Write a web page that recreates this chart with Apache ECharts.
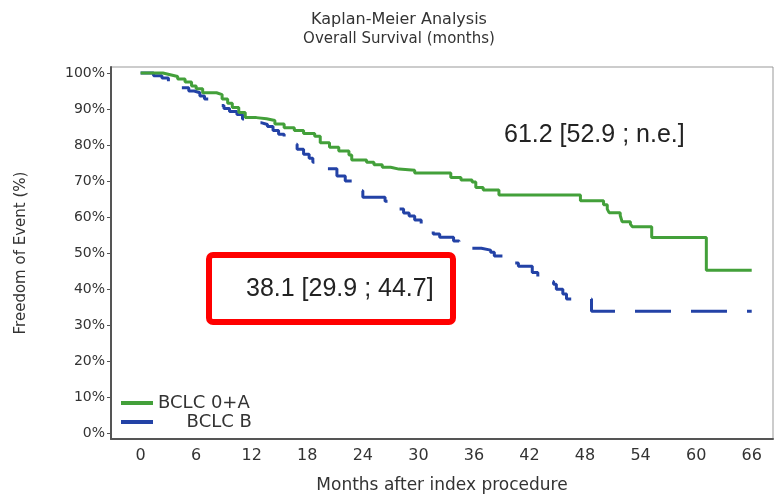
<!DOCTYPE html>
<html>
<head>
<meta charset="utf-8">
<script src="https://cdn.jsdelivr.net/npm/echarts@6/dist/echarts.min.js"></script>
<style>
  html, body { margin: 0; padding: 0; background: #fff; }
  #kmChart { width: 783px; height: 499px; }
</style>
</head>
<body>
<div id="kmChart"></div>
<script>
// tick labels
var xTicks = [0, 6, 12, 18, 24, 30, 36, 42, 48, 54, 60, 66];
var yTicks = [0, 10, 20, 30, 40, 50, 60, 70, 80, 90, 100];

// BCLC 0+A (months, % free of event after the step)
var greenMonths = [0, 2.4, 3.2, 4.0, 4.8, 5.5, 6.0, 6.7, 8.2, 8.8, 9.4, 9.9, 10.6, 11.3, 12.5, 13.6, 14.5, 15.5, 16.6, 17.6,
	18.8, 19.4, 20.4, 21.4, 22.5, 22.8, 24.4, 25.2, 26.1, 27.0, 27.9, 29.6, 33.5, 34.6, 35.8, 36.2, 37.0, 38.7,
	47.5, 50.0, 50.4, 50.6, 51.8, 52.0, 52.9, 53.1, 55.2, 61.1, 66.0];
var greenSurv = [100, 99.5, 99, 98.3, 97.5, 96.4, 95.6, 94.5, 94.0, 92.8, 91.6, 90.4, 89, 87.6, 87.3, 86.8, 85.8, 84.8, 84, 83.2,
	82.4, 80.6, 79.4, 78.3, 77.2, 75.8, 75.2, 74.5, 73.8, 73.3, 73.0, 72.2, 71, 70.3, 69.7, 68.2, 67.5, 66.1,
	64.5, 63.4, 62.2, 61.2, 60.4, 58.7, 58.0, 57.3, 54.3, 45.2, 45.2];

// BCLC B
var blueMonths = [0, 1.4, 2.3, 3.0, 3.6, 4.2, 5.2, 5.8, 6.4, 6.9, 7.6, 8.3, 9.0, 9.6, 10.4, 11.0, 11.5, 13.0, 13.7, 14.3,
	14.9, 15.5, 16.3, 16.9, 17.6, 18.2, 18.6, 19.3, 20.1, 21.2, 22.1, 23.0, 23.4, 24.0, 26.4, 27.1, 27.6, 28.4,
	29.0, 29.6, 30.3, 30.9, 31.6, 32.3, 33.8, 34.4, 35.0, 36.8, 37.8, 38.2, 39.3, 40.0, 40.8, 42.3, 42.9, 43.3,
	44.6, 44.9, 45.6, 46.0, 48.7, 66.0];
var blueSurv = [100, 99.2, 98.6, 97.5, 96.7, 95.9, 95.0, 94.5, 93.6, 92.8, 91.8, 91.0, 90.1, 89.3, 88.5, 87.2, 86.2, 85.7, 85.1, 84.0,
	83.0, 82.1, 80.2, 78.8, 77.4, 76.3, 75.2, 74.6, 73.4, 71.4, 70.0, 68.6, 67.3, 65.5, 64.4, 63.1, 62.2, 61.1,
	60.3, 59.2, 57.8, 56.5, 55.3, 54.4, 53.3, 52.0, 51.3, 50.8, 50.2, 49.2, 48.2, 47.2, 46.3, 44.6, 43.2, 42.1,
	41.3, 39.9, 38.6, 37.2, 33.8, 33.8];

var greenColor = '#43a03a';
var blueColor = '#2342a6';

function pairs(xs, ys) {
	var out = [];
	for (var i = 0; i < xs.length; i++) {
		out.push([xs[i], ys[i]]);
	}
	return out;
}

var chart = echarts.init(document.getElementById('kmChart'));
var font = 'DejaVu Sans';

var option = {
	backgroundColor: '#fff',
	animation: false,
	title: {
		text: 'Kaplan-Meier Analysis',
		subtext: 'Overall Survival (months)',
		left: 394,
		textAlign: 'center',
		top: 7,
		itemGap: 4,
		textStyle: { fontFamily: font, fontSize: 16, fontWeight: 'normal', color: '#333' },
		subtextStyle: { fontFamily: font, fontSize: 15, color: '#333' }
	},
	legend: {
		orient: 'vertical',
		left: 116,
		top: 389,
		itemWidth: 32,
		itemHeight: 4,
		itemGap: 1,
		icon: 'rect',
		data: [{
			name: 'BCLC 0+A',
			itemStyle: { color: greenColor, borderWidth: 0, borderType: 'solid' },
			lineStyle: { type: 'solid', opacity: 0 }
		}, {
			name: 'BCLC B',
			itemStyle: { color: blueColor, borderWidth: 0, borderType: 'solid' },
			lineStyle: { type: 'solid', opacity: 0 }
		}],
		formatter: function (name) {
			return name === 'BCLC B' ? '     ' + name : name;
		},
		textStyle: { fontFamily: font, fontSize: 18, color: '#333' }
	},
	grid: {
		left: 111,
		right: 10,
		top: 67,
		bottom: 58,
		show: true,
		borderColor: '#999',
		borderWidth: 1
	},
	xAxis: {
		type: 'value',
		min: -3.2,
		max: 68.3,
		name: 'Months after index procedure',
		nameLocation: 'middle',
		nameGap: 38,
		nameTextStyle: { fontFamily: font, fontSize: 17, color: '#333' },
		axisLine: { show: true, onZero: false, lineStyle: { color: '#555', width: 2 } },
		axisTick: { show: false },
		splitLine: { show: false },
		axisLabel: {
			customValues: xTicks,
			margin: 9,
			fontFamily: font,
			fontSize: 16,
			color: '#333'
		}
	},
	yAxis: {
		type: 'value',
		min: -1.66,
		max: 101.66,
		name: 'Freedom of Event (%)',
		nameLocation: 'middle',
		nameGap: 82,
		nameTextStyle: { fontFamily: font, fontSize: 15, color: '#333' },
		axisLine: { show: true, onZero: false, lineStyle: { color: '#555', width: 2 } },
		axisTick: { show: true, customValues: yTicks, length: 4, lineStyle: { color: '#555' } },
		splitLine: { show: false },
		axisLabel: {
			customValues: yTicks,
			margin: 6,
			fontFamily: font,
			fontSize: 14,
			color: '#333',
			formatter: function (v) { return v + '%'; }
		}
	},
	series: [{
		name: 'BCLC B',
		type: 'line',
		step: 'end',
		symbol: 'none',
		z: 2,
		itemStyle: { color: blueColor },
		lineStyle: { color: blueColor, width: 3, type: [36, 20], dashOffset: 0 },
		data: pairs(blueMonths, blueSurv)
	}, {
		name: 'BCLC 0+A',
		type: 'line',
		step: 'end',
		symbol: 'none',
		z: 3,
		itemStyle: { color: greenColor },
		lineStyle: { color: greenColor, width: 3 },
		data: pairs(greenMonths, greenSurv)
	}],
	graphic: [{
		type: 'text',
		left: 504,
		top: 123,
		style: { text: '61.2 [52.9 ; n.e.]', font: '25px "Liberation Sans"', fill: '#222' }
	}, {
		type: 'rect',
		shape: { x: 209, y: 255, width: 244, height: 67, r: 4 },
		style: { fill: 'none', stroke: '#ff0000', lineWidth: 6 }
	}, {
		type: 'text',
		left: 246,
		top: 277,
		style: { text: '38.1 [29.9 ; 44.7]', font: '25px "Liberation Sans"', fill: '#222' }
	}]
};

chart.setOption(option);
</script>
</body>
</html>
